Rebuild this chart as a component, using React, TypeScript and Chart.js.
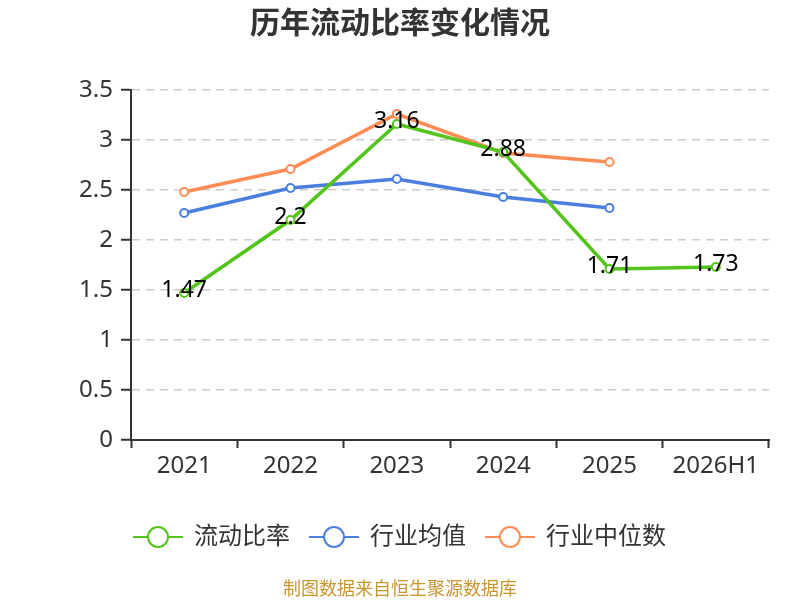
import React, { useEffect, useRef } from "react";
import { Chart, registerables } from "chart.js";

Chart.register(...registerables);

const categories = ["2021", "2022", "2023", "2024", "2025", "2026H1"];
const currentRatio = [1.47, 2.2, 3.16, 2.88, 1.71, 1.73];
const industryMean = [2.27, 2.52, 2.61, 2.43, 2.32, null];
const industryMedian = [2.48, 2.71, 3.26, 2.87, 2.78, null];
const seriesNames = ["流动比率", "行业均值", "行业中位数"];
const seriesColors = ["#52c41a", "#4a7fe0", "#ff8b55"];
const yTicks = [0, 0.5, 1, 1.5, 2, 2.5, 3, 3.5];
const titleText = "历年流动比率变化情况";
const sourceText = "制图数据来自恒生聚源数据库";

const FONT = "'Noto Sans', 'Noto Sans CJK SC', sans-serif";

function legendSymbol(color: string): HTMLCanvasElement {
  const c = document.createElement("canvas");
  c.width = 50;
  c.height = 24;
  const ctx = c.getContext("2d")!;
  ctx.strokeStyle = color;
  ctx.lineWidth = 2;
  ctx.beginPath();
  ctx.moveTo(0, 12);
  ctx.lineTo(50, 12);
  ctx.stroke();
  ctx.beginPath();
  ctx.arc(25, 12, 10, 0, Math.PI * 2);
  ctx.fillStyle = "#fff";
  ctx.fill();
  ctx.stroke();
  return c;
}

const dataLabelPlugin = {
  id: "dataLabels",
  afterDatasetsDraw(chart: any) {
    const ctx = chart.ctx;
    const meta = chart.getDatasetMeta(0);
    ctx.save();
    ctx.font = `23px ${FONT}`;
    ctx.fillStyle = "#000";
    ctx.textAlign = "center";
    ctx.textBaseline = "middle";
    meta.data.forEach((pt: any, i: number) => {
      const v = currentRatio[i];
      if (v == null) return;
      ctx.fillText(String(v), pt.x, pt.y - 3);
    });
    ctx.restore();
  },
};

const sourcePlugin = {
  id: "sourceText",
  afterDraw(chart: any) {
    const ctx = chart.ctx;
    ctx.save();
    ctx.font = `18px ${FONT}`;
    ctx.fillStyle = "#c9952f";
    ctx.textAlign = "center";
    ctx.textBaseline = "middle";
    ctx.fillText(sourceText, chart.width / 2, 590);
    ctx.restore();
  },
};

export default function App() {
  const ref = useRef<HTMLCanvasElement | null>(null);

  useEffect(() => {
    if (!ref.current) return;
    const seriesData = [currentRatio, industryMean, industryMedian];
    const chart = new Chart(ref.current, {
      type: "line",
      data: {
        labels: categories,
        datasets: seriesData.map((d, i) => ({
          label: seriesNames[i],
          data: d,
          borderColor: seriesColors[i],
          backgroundColor: seriesColors[i],
          borderWidth: 3.5,
          pointRadius: 4,
          pointBorderWidth: 2,
          pointBackgroundColor: "#fff",
          pointBorderColor: seriesColors[i],
          tension: 0,
          spanGaps: false,
        })),
      },
      options: {
        animation: false,
        responsive: false,
        maintainAspectRatio: false,
        layout: { padding: { left: 31, right: 31, top: 0, bottom: 41 } },
        plugins: {
          title: {
            display: true,
            text: titleText,
            color: "#333",
            font: { family: FONT, size: 30, weight: "bold" },
            padding: { top: 6, bottom: 48 },
          },
          legend: {
            position: "bottom",
            labels: {
              usePointStyle: true,
              pointStyleWidth: 48,
              padding: 20,
              color: "#333",
              font: { family: FONT, size: 24 },
              generateLabels: (c: any) =>
                c.data.datasets.map((ds: any, i: number) => ({
                  text: ds.label,
                  fillStyle: "#fff",
                  strokeStyle: seriesColors[i],
                  lineWidth: 2,
                  pointStyle: legendSymbol(seriesColors[i]),
                  fontColor: "#333",
                  hidden: false,
                  datasetIndex: i,
                })),
            },
          },
          tooltip: { enabled: false },
        },
        scales: {
          x: {
            type: "category",
            offset: true,
            afterFit: (s: any) => {
              s.height = 65;
            },
            grid: {
              display: true,
              drawOnChartArea: false,
              drawTicks: true,
              offset: true,
              tickLength: 8,
              tickColor: "#333",
              tickWidth: 2,
            },
            border: { display: true, color: "#333", width: 2 },
            ticks: {
              color: "#333",
              padding: 4,
              font: { family: FONT, size: 24 },
              maxRotation: 0,
            },
          },
          y: {
            min: 0,
            max: 3.5,
            afterFit: (s: any) => {
              s.width = 100;
            },
            afterBuildTicks: (s: any) => {
              s.ticks = yTicks.map((v) => ({ value: v }));
            },
            grid: {
              color: "#cccccc",
              lineWidth: 1.5,
              drawTicks: true,
              tickLength: 10,
              tickColor: "#333",
              tickWidth: 2,
              tickBorderDash: [],
            },
            border: { display: true, color: "#333", width: 2, dash: [8, 6] },
            ticks: {
              color: "#333",
              padding: 8,
              font: { family: FONT, size: 24 },
              callback: (v: any) => String(v),
            },
          },
        },
      },
      plugins: [dataLabelPlugin, sourcePlugin],
    });
    return () => chart.destroy();
  }, []);

  return (
    <div style={{ position: "fixed", left: 0, top: 0, width: 800, height: 600, background: "#fff" }}>
      <canvas ref={ref} width={800} height={600} style={{ width: 800, height: 600 }} />
    </div>
  );
}
